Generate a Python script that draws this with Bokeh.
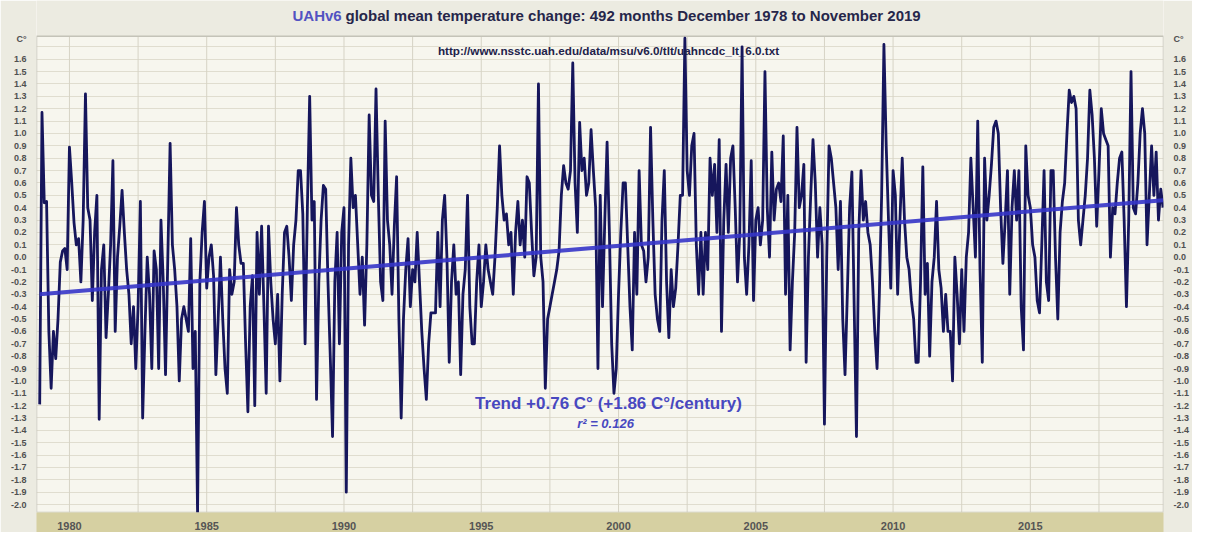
from bokeh.plotting import figure
from bokeh.models import FixedTicker, Label, LinearAxis, Range1d
from bokeh.embed import file_html
from bokeh.resources import INLINE

# ---- data (monthly anomalies, Dec 1978 .. Nov 2019) ----
start_year = 1978
start_month = 12
anomaly = [
    -1.19, 1.17, 0.44, 0.45, -0.6, -1.06, -0.6, -0.82, -0.5, -0.04, 0.05, 0.07,
    -0.1, 0.89, 0.6, 0.28, 0.1, 0.15, -0.2, 0.3, 1.32, 0.4, 0.3, -0.35,
    0.2, 0.5, -1.31, -0.1, 0.1, -0.65, -0.3, 0.1, 0.78, -0.6, 0.0, 0.25,
    0.54, 0.2, -0.1, -0.3, -0.7, -0.4, -0.9, -0.4, 0.45, -1.3, -0.6, 0.0,
    -0.3, -0.9, 0.05, -0.1, -0.9, 0.3, -0.2, -0.95, 0.0, 0.92, 0.1, -0.1,
    -0.4, -1.0, -0.5, -0.4, -0.5, -0.6, 0.15, -0.9, -0.6, -2.07, -0.2, 0.2,
    0.45, -0.25, 0.0, 0.1, -0.15, -0.95, -0.5, 0.0, -0.5, -0.9, -1.1, -0.1,
    -0.3, -0.2, 0.4, 0.1, -0.05, -0.05, -0.7, -1.25, -0.4, -0.15, -1.2, 0.2,
    -0.3, 0.25, -0.4, -1.1, 0.25, -0.2, -0.5, -0.7, -0.3, -1.0, -0.3, 0.2,
    0.25, 0.0, -0.35, 0.1, 0.3, 0.7, 0.7, 0.35, -0.7, 0.4, 1.3, 0.3,
    0.45, -1.15, -0.2, 0.3, 0.58, 0.55, -0.2, -0.8, -1.45, -0.2, 0.2, -0.7,
    0.2, 0.4, -1.9, 0.1, 0.8, 0.4, 0.5, 0.1, -0.3, 0.0, -0.55, 0.1,
    1.15, 0.5, 0.45, 1.36, 0.5, -0.2, -0.35, 1.1, 0.3, 0.1, -0.3, 0.25,
    0.65, -0.5, -1.3, -0.5, -0.1, 0.15, -0.4, -0.1, -0.2, 0.2, -0.2, -0.6,
    -0.9, -1.15, -0.7, -0.45, -0.45, -0.45, 0.2, -0.4, 0.3, 0.5, 0.0, -0.85,
    -0.2, 0.1, -0.3, -0.2, -0.95, -0.3, -0.1, 0.5, -0.4, -0.7, -0.7, -0.2,
    0.1, -0.4, -0.2, 0.1, -0.1, -0.2, -0.3, 0.0, 0.4, 0.9, 0.5, 0.3,
    0.35, 0.1, 0.2, -0.3, 0.2, 0.45, 0.1, 0.3, 0.0, 0.65, 0.6, 0.2,
    -0.15, 0.0, 1.4, 0.0, -0.2, -1.06, -0.5, -0.4, -0.3, -0.2, -0.1, 0.05,
    0.5, 0.74, 0.6, 0.55, 0.7, 1.57, 0.6, 0.2, 1.09, 0.7, 0.8, 0.5,
    0.6, 1.03, 0.7, 0.4, -0.9, 0.5, -0.4, 0.3, 0.93, 0.2, -0.7, -1.1,
    -0.9, -0.3, 0.2, 0.6, 0.6, 0.1, -0.4, -0.75, 0.2, -0.3, 0.7, 0.1,
    0.05, -0.2, 0.0, 1.05, 0.3, -0.3, -0.5, -0.6, 0.3, 0.7, -0.2, -0.65,
    -0.1, -0.4, -0.25, 0.1, 0.5, 0.5, 1.77, 0.7, 0.5, 0.9, 1.0, 0.1,
    -0.3, 0.2, -0.3, 0.2, -0.1, 0.8, 0.5, 0.75, 0.2, 0.95, -0.6, 0.3,
    0.75, 0.2, 0.8, 0.9, 0.4, -0.2, 0.2, 1.7, 0.0, -0.3, 0.1, 0.78,
    -0.35, 0.3, 0.4, 0.1, 0.3, 1.5, 0.4, 0.0, 0.85, 0.3, 0.55, 0.6,
    0.45, 0.98, -0.3, 0.5, -0.75, -0.2, 0.2, 1.05, 0.4, 0.5, 0.75, -0.85,
    0.0, 0.5, 0.95, 0.6, 0.0, 0.4, 0.1, -1.35, 0.0, 0.9, 0.8, 0.6,
    0.4, -0.1, 0.45, -0.5, -0.95, -0.3, 0.4, 0.69, -0.4, -1.45, 0.2, 0.7,
    0.3, 0.45, 0.2, 0.1, -0.2, -0.6, -0.9, -0.3, 0.5, 1.72, 0.9, 0.3,
    -0.25, 0.7, 0.5, -0.3, 0.3, 0.8, 0.3, 0.0, -0.1, -0.35, -0.5, -0.85,
    -0.85, -0.2, 0.73, -0.3, -0.05, -0.8, -0.2, 0.0, 0.45, -0.1, -0.25, -0.6,
    -0.3, -0.6, -0.6, -1.0, 0.0, -0.3, -0.7, -0.1, -0.6, 0.0, 0.2, 0.8,
    0.4, 0.0, 1.1, -0.1, -0.85, 0.8, 0.3, 0.5, 0.75, 1.05, 1.1, 1.0,
    0.4, -0.05, 0.3, 0.7, -0.3, 0.4, 0.7, 0.3, 0.7, -0.4, -0.75, 0.9,
    0.5, 0.4, 0.1, 0.0, -0.35, -0.45, 0.1, 0.7, -0.2, -0.35, 0.7, 0.7,
    0.0, -0.5, 0.2, 0.45, 0.6, 1.0, 1.35, 1.25, 1.3, 1.2, 0.3, 0.1,
    0.3, 0.5, 0.8, 1.35, 1.15, 0.8, 0.25, 0.7, 1.2, 1.0, 0.95, 0.9,
    0.0, 0.4, 0.35, 0.6, 0.8, 0.85, 0.3, -0.4, 0.3, 1.5, 0.4, 0.35,
    0.6, 1.0, 1.2, 1.0, 0.1, 0.5, 0.9, 0.5, 0.85, 0.3, 0.55, 0.4,
]

trend_years = [1978.917, 2019.833]
trend_values = [-0.30, 0.46]

year_ticks = [1980, 1985, 1990, 1995, 2000, 2005, 2010, 2015]
grid_years = [1980, 1982.5, 1985, 1987.5, 1990, 1992.5, 1995, 1997.5, 2000,
              2002.5, 2005, 2007.5, 2010, 2012.5, 2015, 2017.5]
y_ticks = [round(-2.0 + 0.1 * k, 1) for k in range(37)]
y_tick_labels = {v: f"{v:.1f}" for v in y_ticks}
unit_tick = 1.76
y_grid = [round(-2.0 + 0.1 * k, 1) for k in range(38)]

title_main = "UAHv6"
title_rest = "global mean temperature change: 492 months December 1978 to November 2019"
source_url = "http://www.nsstc.uah.edu/data/msu/v6.0/tlt/uahncdc_lt_6.0.txt"
trend_text = "Trend +0.76 C\u00b0 (+1.86 C\u00b0/century)"
r2_text = "r\u00b2 = 0.126"
unit_text = "C\u00b0"

# ---- layout constants ----
FONT = "Liberation Sans"
W, H = 1192, 532
ML, MR, MT, MB = 36, 24, 0, 18
FRAME_H = H - MT - MB           # 514
X_LO, X_HI = 1978.8, 2019.85
Y_LO, Y_HI = -2.064, 2.075      # frame spans the title band too
PLOT_TOP = 1.785                # top of the cream plotting area

t0 = start_year + (start_month - 1) / 12.0
months = [t0 + i / 12.0 for i in range(len(anomaly))]

p = figure(width=W, height=H, output_backend="svg", toolbar_location=None,
           x_range=Range1d(X_LO, X_HI), y_range=Range1d(Y_LO, Y_HI),
           min_border_left=ML, min_border_right=MR,
           min_border_top=MT, min_border_bottom=MB)
p.background_fill_color = "#f7f6ee"
p.border_fill_color = "#ecebe1"
p.outline_line_color = None

# horizontal grid (every 0.1) from Bokeh's grid
p.xgrid.visible = False
p.ygrid.ticker = FixedTicker(ticks=y_grid)
p.ygrid.grid_line_color = "#e0ddcf"

# title band painted over the top of the frame
p.quad(left=[X_LO], right=[X_HI], bottom=[PLOT_TOP], top=[Y_HI],
       fill_color="#ecebe1", line_color=None)
# vertical grid lines every 2.5 years, only within the plotting area
p.segment(x0=grid_years, y0=[Y_LO] * len(grid_years),
          x1=grid_years, y1=[PLOT_TOP] * len(grid_years),
          line_color="#d6d3c5", line_width=1)
# plotting-area outline
p.quad(left=[X_LO], right=[X_HI], bottom=[Y_LO], top=[PLOT_TOP],
       fill_color=None, line_color="#c4c3b8", line_width=1.5)

right_axis = LinearAxis()
p.add_layout(right_axis, "right")

for ax in p.yaxis:
    ax.ticker = FixedTicker(ticks=y_ticks + [unit_tick])
    labels = dict(y_tick_labels)
    labels[unit_tick] = unit_text
    ax.major_label_overrides = labels
    ax.axis_line_color = None
    ax.major_tick_line_color = None
    ax.minor_tick_line_color = None
    ax.major_label_text_font = FONT
    ax.major_label_text_font_size = "9px"
    ax.major_label_text_font_style = "bold"
    ax.major_label_text_color = "#505050"
    ax.major_label_standoff = 4

xa = p.xaxis[0]
xa.ticker = FixedTicker(ticks=year_ticks)
xa.axis_line_color = None
xa.major_tick_line_color = None
xa.minor_tick_line_color = None
xa.major_label_text_font = FONT
xa.major_label_text_font_size = "11px"
xa.major_label_text_font_style = "bold"
xa.major_label_text_color = "#555555"
xa.major_label_standoff = 3
if hasattr(xa, "background_fill_color"):
    xa.background_fill_color = "#d6d0a2"

p.line(months, anomaly, line_color="#16165c", line_width=2.8, line_join="round")
p.line(trend_years, trend_values, line_color="#3535c8", line_width=4, line_alpha=0.9)

# ---- texts (screen units are relative to the frame, y from its bottom) ----
def frame_label(text, px, py, size, color, style="bold", align="left"):
    return Label(x=px - ML, y=(MT + FRAME_H) - py, x_units="screen", y_units="screen",
                 text=text, text_font=FONT, text_font_size=size,
                 text_font_style=style, text_color=color,
                 text_baseline="middle", text_align=align)

p.add_layout(frame_label(title_main, 292, 17, "15px", "#5252c2"))
p.add_layout(frame_label(title_rest, 345, 17, "15px", "#26264a"))
p.add_layout(frame_label(source_url, 608, 52, "11.7px", "#22224a", align="center"))
p.add_layout(frame_label(trend_text, 608, 405, "17px", "#4848c0", align="center"))
p.add_layout(frame_label(r2_text, 605, 425, "13px", "#4848c0",
                         style="bold italic", align="center"))

open("out.html", "w").write(file_html(p, INLINE))
